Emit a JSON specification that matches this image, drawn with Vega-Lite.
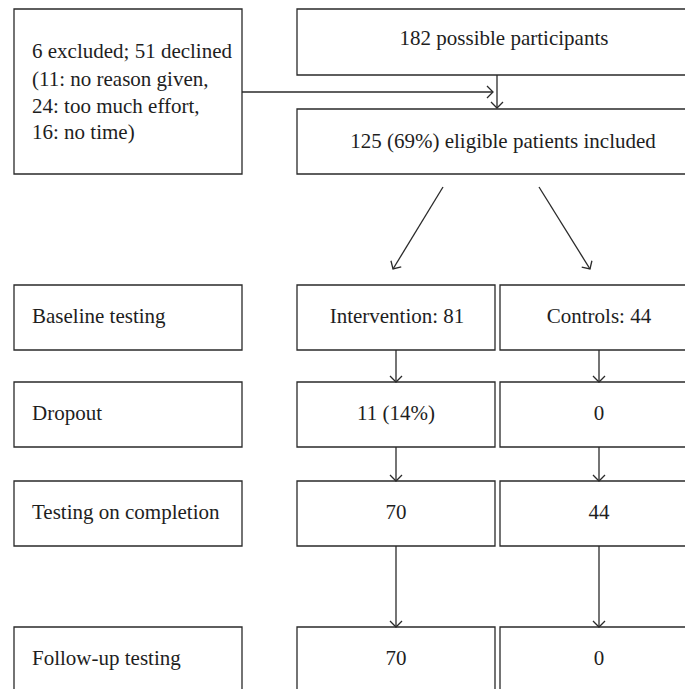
{
  "$schema": "https://vega.github.io/schema/vega-lite/v6.json",
  "width": 685,
  "height": 689,
  "padding": 0,
  "autosize": {"type": "fit", "contains": "padding"},
  "background": "white",
  "config": {"view": {"stroke": null}},
  "datasets": {
    "boxes": [
      {"x": 14, "x2": 242, "y": 9, "y2": 174},
      {"x": 297, "x2": 709, "y": 9, "y2": 75},
      {"x": 297, "x2": 709, "y": 109, "y2": 174},
      {"x": 14, "x2": 242, "y": 285, "y2": 350},
      {"x": 297, "x2": 495, "y": 285, "y2": 350},
      {"x": 500, "x2": 698, "y": 285, "y2": 350},
      {"x": 14, "x2": 242, "y": 382, "y2": 447},
      {"x": 297, "x2": 495, "y": 382, "y2": 447},
      {"x": 500, "x2": 698, "y": 382, "y2": 447},
      {"x": 14, "x2": 242, "y": 481, "y2": 546},
      {"x": 297, "x2": 495, "y": 481, "y2": 546},
      {"x": 500, "x2": 698, "y": 481, "y2": 546},
      {"x": 14, "x2": 242, "y": 627, "y2": 700},
      {"x": 297, "x2": 495, "y": 627, "y2": 700},
      {"x": 500, "x2": 698, "y": 627, "y2": 700}
    ],
    "lines": [
      {"x": 242, "y": 92, "x2": 493, "y2": 92},
      {"x": 497, "y": 75, "x2": 497, "y2": 108},
      {"x": 443, "y": 187, "x2": 393, "y2": 269},
      {"x": 539, "y": 187, "x2": 590, "y2": 269},
      {"x": 396, "y": 350, "x2": 396, "y2": 382},
      {"x": 599, "y": 350, "x2": 599, "y2": 382},
      {"x": 396, "y": 447, "x2": 396, "y2": 481},
      {"x": 599, "y": 447, "x2": 599, "y2": 481},
      {"x": 396, "y": 546, "x2": 396, "y2": 627},
      {"x": 599, "y": 546, "x2": 599, "y2": 627}
    ],
    "heads": [
      {"x": 493, "y": 92, "angle": 270},
      {"x": 497, "y": 108, "angle": 0},
      {"x": 393, "y": 269, "angle": 31},
      {"x": 590, "y": 269, "angle": 328},
      {"x": 396, "y": 382, "angle": 0},
      {"x": 599, "y": 382, "angle": 0},
      {"x": 396, "y": 481, "angle": 0},
      {"x": 599, "y": 481, "angle": 0},
      {"x": 396, "y": 627, "angle": 0},
      {"x": 599, "y": 627, "angle": 0}
    ],
    "leftLabels": [
      {"x": 32, "y": 52, "text": "6 excluded; 51 declined"},
      {"x": 32, "y": 80, "text": "(11: no reason given,"},
      {"x": 32, "y": 107, "text": "24: too much effort,"},
      {"x": 32, "y": 133, "text": "16: no time)"},
      {"x": 32, "y": 317, "text": "Baseline testing"},
      {"x": 32, "y": 414, "text": "Dropout"},
      {"x": 32, "y": 513, "text": "Testing on completion"},
      {"x": 32, "y": 659, "text": "Follow-up testing"}
    ],
    "centerLabels": [
      {"x": 504, "y": 39, "text": "182 possible participants"},
      {"x": 503, "y": 142, "text": "125 (69%) eligible patients included"},
      {"x": 397, "y": 317, "text": "Intervention: 81"},
      {"x": 599, "y": 317, "text": "Controls: 44"},
      {"x": 396, "y": 414, "text": "11 (14%)"},
      {"x": 599, "y": 414, "text": "0"},
      {"x": 396, "y": 513, "text": "70"},
      {"x": 599, "y": 513, "text": "44"},
      {"x": 396, "y": 659, "text": "70"},
      {"x": 599, "y": 659, "text": "0"}
    ]
  },
  "layer": [
    {
      "data": {"name": "boxes"},
      "mark": {"type": "rect", "fill": "white", "stroke": "#2a2a2a", "strokeWidth": 1.3, "clip": true},
      "encoding": {
        "x": {"field": "x", "type": "quantitative", "scale": {"domain": [0, 685], "nice": false, "zero": false}, "axis": null},
        "x2": {"field": "x2"},
        "y": {"field": "y", "type": "quantitative", "scale": {"domain": [0, 689], "nice": false, "zero": false, "reverse": true}, "axis": null},
        "y2": {"field": "y2"}
      }
    },
    {
      "data": {"name": "lines"},
      "mark": {"type": "rule", "stroke": "#2a2a2a", "strokeWidth": 1.3},
      "encoding": {
        "x": {"field": "x", "type": "quantitative"},
        "x2": {"field": "x2"},
        "y": {"field": "y", "type": "quantitative"},
        "y2": {"field": "y2"}
      }
    },
    {
      "data": {"name": "heads"},
      "mark": {"type": "point", "shape": "M-1,-1L0,0L1,-1", "filled": false, "stroke": "#2a2a2a", "strokeWidth": 1.3, "size": 144, "opacity": 1},
      "encoding": {
        "x": {"field": "x", "type": "quantitative"},
        "y": {"field": "y", "type": "quantitative"},
        "angle": {"field": "angle", "type": "quantitative", "scale": null}
      }
    },
    {
      "data": {"name": "leftLabels"},
      "mark": {"type": "text", "font": "Liberation Serif", "fontSize": 21, "baseline": "middle", "align": "left", "color": "#1e1e1e"},
      "encoding": {
        "x": {"field": "x", "type": "quantitative"},
        "y": {"field": "y", "type": "quantitative"},
        "text": {"field": "text"}
      }
    },
    {
      "data": {"name": "centerLabels"},
      "mark": {"type": "text", "font": "Liberation Serif", "fontSize": 21, "baseline": "middle", "align": "center", "color": "#1e1e1e"},
      "encoding": {
        "x": {"field": "x", "type": "quantitative"},
        "y": {"field": "y", "type": "quantitative"},
        "text": {"field": "text"}
      }
    }
  ]
}
